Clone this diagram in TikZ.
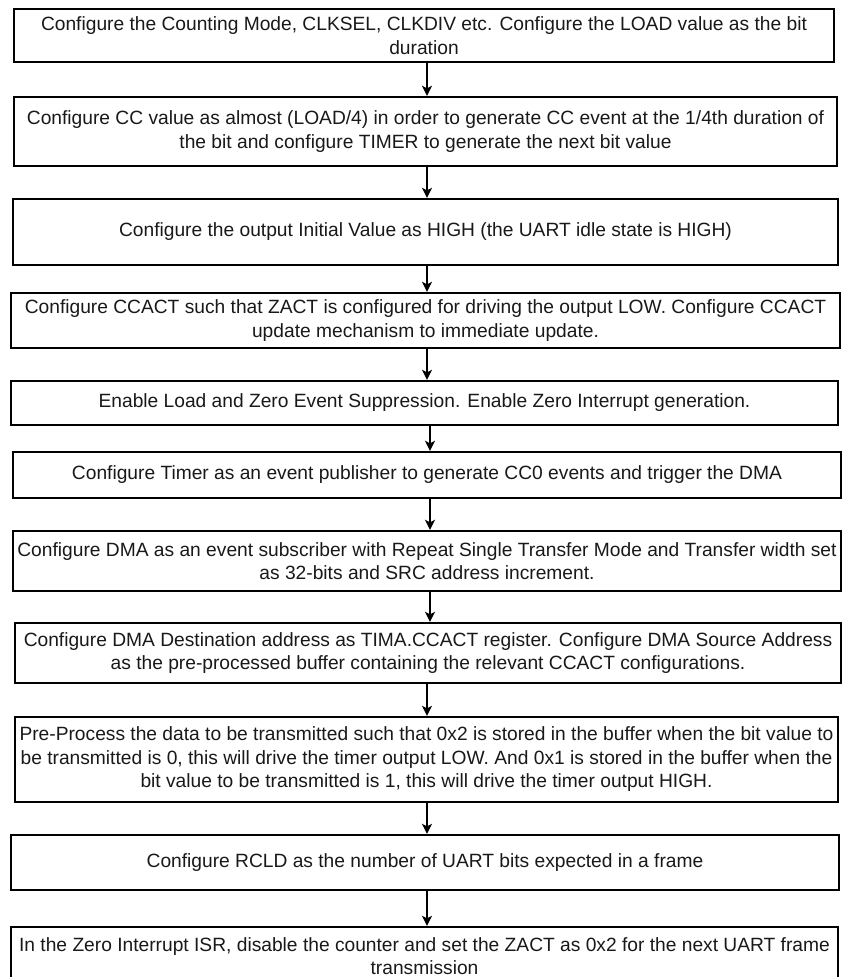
\documentclass[tikz,border=0pt]{standalone}
\usepackage{fontspec}
\setmainfont{Liberation Sans}
\usetikzlibrary{arrows.meta}
\begin{document}
\begin{tikzpicture}[x=1pt,y=-1pt,
  stepbox/.style={draw=black, line width=2.4pt, fill=white, rectangle, inner sep=0pt, align=center,
    text=black!90, font=\fontsize{19.2}{23.5}\selectfont},
  arr/.style={line width=1.5pt, -{Stealth[length=10pt,width=10pt,inset=2.5pt]}}]
\useasboundingbox (0,0) rectangle (842,977);
\node[stepbox, minimum width=820pt, minimum height=53pt] (b1) at (424,35.5)
  {Configure the Counting Mode, CLKSEL, CLKDIV etc. Configure the LOAD value as the bit\\duration};
\node[stepbox, minimum width=823pt, minimum height=69pt] (b2) at (425.5,131.5)
  {Configure CC value as almost (LOAD/4) in order to generate CC event at the 1/4th duration of\\the bit and configure TIMER to generate the next bit value};
\node[stepbox, minimum width=825pt, minimum height=66pt] (b3) at (425.5,232)
  {Configure the output Initial Value as HIGH (the UART idle state is HIGH)};
\node[stepbox, minimum width=829pt, minimum height=55pt] (b4) at (425.5,320.5)
  {Configure CCACT such that ZACT is configured for driving the output LOW. Configure CCACT\\update mechanism to immediate update.};
\node[stepbox, minimum width=827pt, minimum height=44pt] (b5) at (424.5,403)
  {Enable Load and Zero Event Suppression. Enable Zero Interrupt generation.};
\node[stepbox, minimum width=828pt, minimum height=46pt] (b6) at (427,475)
  {Configure Timer as an event publisher to generate CC0 events and trigger the DMA};
\node[stepbox, minimum width=828pt, minimum height=60pt] (b7) at (427,561)
  {Configure DMA as an event subscriber with Repeat Single Transfer Mode and Transfer width set\\as 32-bits and SRC address increment.};
\node[stepbox, minimum width=826pt, minimum height=60pt] (b8) at (428,653)
  {Configure DMA Destination address as TIMA.CCACT register. Configure DMA Source Address\\as the pre-processed buffer containing the relevant CCACT configurations.};
\node[stepbox, minimum width=823pt, minimum height=85pt] (b9) at (426.5,759.5)
  {Pre-Process the data to be transmitted such that 0x2 is stored in the buffer when the bit value to\\be transmitted is 0, this will drive the timer output LOW. And 0x1 is stored in the buffer when the\\bit value to be transmitted is 1, this will drive the timer output HIGH.};
\node[stepbox, minimum width=828pt, minimum height=55pt] (b10) at (425,862.5)
  {Configure RCLD as the number of UART bits expected in a frame};
\node[stepbox, minimum width=827pt, minimum height=58pt] (b11) at (424.5,956)
  {In the Zero Interrupt ISR, disable the counter and set the ZACT as 0x2 for the next UART frame\\transmission};
\coordinate (ax) at (427,0);
\draw[arr] (b1.south -| ax) -- (b2.north -| ax);
\draw[arr] (b2.south -| ax) -- (b3.north -| ax);
\draw[arr] (b3.south -| ax) -- (b4.north -| ax);
\draw[arr] (b4.south -| ax) -- (b5.north -| ax);
\coordinate (bx) at (430,0);
\draw[arr] (b5.south -| bx) -- (b6.north -| bx);
\draw[arr] (b6.south -| bx) -- (b7.north -| bx);
\draw[arr] (b7.south -| bx) -- (b8.north -| bx);
\draw[arr] (b8.south -| ax) -- (b9.north -| ax);
\draw[arr] (b9.south -| ax) -- (b10.north -| ax);
\draw[arr] (b10.south -| ax) -- (b11.north -| ax);
\end{tikzpicture}
\end{document}
